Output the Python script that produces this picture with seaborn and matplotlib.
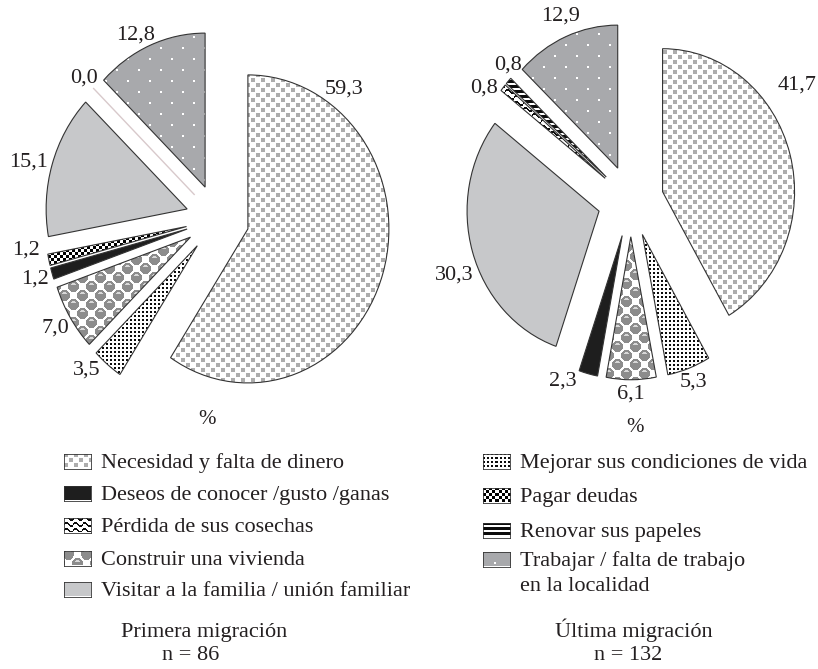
import numpy as np
import matplotlib
matplotlib.use("Agg")
import matplotlib.pyplot as plt
import seaborn as sns

# Categorías (orden de la leyenda)
claves = ["necesidad", "deseos", "perdida", "construir", "visitar",
          "mejorar", "pagar", "renovar", "trabajar"]
nombres = ["Necesidad y falta de dinero",
           "Deseos de conocer /gusto /ganas",
           "Pérdida de sus cosechas",
           "Construir una vivienda",
           "Visitar a la familia / unión familiar",
           "Mejorar sus condiciones de vida",
           "Pagar deudas",
           "Renovar sus papeles",
           "Trabajar / falta de trabajo\nen la localidad"]

# Primera migración (n = 86), en sentido horario desde arriba
orden_1 = ["necesidad", "mejorar", "construir", "deseos", "pagar",
           "visitar", "renovar", "trabajar"]
valores_1 = [59.3, 3.5, 7.0, 1.2, 1.2, 15.1, 0.0, 12.8]

# Última migración (n = 132)
orden_2 = ["necesidad", "mejorar", "construir", "deseos", "visitar",
           "perdida", "renovar", "trabajar"]
valores_2 = [41.7, 5.3, 6.1, 2.3, 30.3, 0.8, 0.8, 12.9]

titulos = ["Primera migración\nn = 86", "Última migración\nn = 132"]

sns.set_theme(style="white")
plt.rcParams["font.family"] = ["Liberation Serif", "DejaVu Serif"]
TXT = "#231f20"
W, H = 818, 669


def textura(clave, alto, ancho):
    yy, xx = np.mgrid[0:alto, 0:ancho]
    img = np.ones((alto, ancho, 3))
    if clave == "necesidad":
        m = ((xx % 10 < 4) & (yy % 10 < 4)) | (((xx + 5) % 10 < 4) & ((yy + 5) % 10 < 4))
        img[m] = 0.68
    elif clave == "mejorar":
        img[(xx % 4 < 2) & (yy % 4 < 2)] = 0.05
    elif clave == "construir":
        disco = np.zeros((alto, ancho), bool)
        brillo = np.zeros((alto, ancho), bool)
        for di in (-1, 0, 1):
            for dj in (-1, 0, 1):
                ci = xx // 9 + di
                cj = yy // 9 + dj
                ok = (ci + cj) % 2 == 0
                dx = xx - (9 * ci + 4)
                dy = yy - (9 * cj + 4)
                disco |= ok & (dx ** 2 + dy ** 2 < 5.4 ** 2)
                brillo |= ok & ((dx / 2.6) ** 2 + ((dy + 2.2) / 1.0) ** 2 < 1)
        img[disco] = 0.55
        img[brillo] = 0.85
    elif clave == "deseos":
        img[:] = 0.12
    elif clave == "pagar":
        img[(xx // 3 + yy // 3) % 2 == 0] = 0.0
    elif clave == "renovar":
        img[yy % 5 < 3] = 0.05
    elif clave == "perdida":
        onda = (yy + 1.8 * np.sin(2 * np.pi * xx / 9)) % 6
        img[onda < 2] = 0.05
    elif clave == "visitar":
        img[:] = (0.784, 0.788, 0.796)
    elif clave == "trabajar":
        img[:] = (0.66, 0.665, 0.675)
        m = ((xx % 22 < 2) & (yy % 22 < 2)) | (((xx + 11) % 22 < 2) & ((yy + 11) % 22 < 2))
        img[m] = 1.0
    return img


def fmt(v):
    return f"{v:.1f}".replace(".", ",")


def dibuja_pie(rect, orden, valores, explode, ajustes):
    ax = fig.add_axes(rect)
    wedges, _ = ax.pie(valores, explode=[explode] * len(valores), startangle=90,
                       counterclock=False,
                       wedgeprops=dict(facecolor="none", edgecolor="#333333",
                                       linewidth=0.8, zorder=3))
    xlim, ylim = (-1.5, 1.5), (-1.5, 1.4)
    ancho = int(round(rect[2] * W))
    alto = int(round(rect[3] * H))
    for w, clave, v in zip(wedges, orden, valores):
        if v == 0:
            w.set_edgecolor("#d8c9cb")
            w.set_linewidth(1.0)
        else:
            im = ax.imshow(textura(clave, alto, ancho),
                           extent=(xlim[0], xlim[1], ylim[0], ylim[1]),
                           aspect="auto", interpolation="nearest", zorder=1)
            im.set_clip_path(w)
        mid = 0.5 * (w.theta1 + w.theta2)
        dang, r = ajustes.get(clave, (0.0, 1.35))
        ang = np.deg2rad(mid + dang)
        ax.text(r * np.cos(ang), r * np.sin(ang), fmt(v), fontsize=16,
                color=TXT, ha="center", va="center")
    ax.set_aspect("auto")
    ax.set_xlim(*xlim)
    ax.set_ylim(*ylim)
    ax.axis("off")
    return ax


fig = plt.figure(figsize=(W / 100, H / 100), dpi=100)

# pie 1: centro (217.5, 219) px, escala 141 x 154 px por radio
rect1 = [6 / W, 219 / H, 423 / W, 446.6 / H]
ajustes_1 = {"necesidad": (60.0, 1.23), "mejorar": (-4.0, 1.35),
             "pagar": (-4.0, 1.37), "visitar": (1.5, 1.39),
             "trabajar": (3.0, 1.33), "renovar": (0.0, 1.32)}
dibuja_pie(rect1, orden_1, valores_1, 0.225, ajustes_1)

# pie 2: centro (630.7, 201) px, escala 132 x 143 px por radio
rect2 = [432.7 / W, 253.5 / H, 396 / W, 414.7 / H]
ajustes_2 = {"necesidad": (17.6, 1.5), "renovar": (-3.4, 1.33),
             "perdida": (3.9, 1.36), "visitar": (4.6, 1.43),
             "deseos": (-7.3, 1.36), "trabajar": (-1.0, 1.40)}
dibuja_pie(rect2, orden_2, valores_2, 0.25, ajustes_2)

fig.text(207 / W, 1 - 420 / H, "%", fontsize=15, color=TXT, ha="center", va="center")
fig.text(635 / W, 1 - 428 / H, "%", fontsize=15, color=TXT, ha="center", va="center")

# leyenda en dos columnas
col_x = [(64, 101), (483, 520)]
bases = [[468, 500, 532, 565, 596], [468, 502, 537, 566]]
idx = 0
for c, filas in enumerate(bases):
    ix, tx = col_x[c]
    for b in filas:
        clave, nombre = claves[idx], nombres[idx]
        iax = fig.add_axes([ix / W, (H - (b + 0.5)) / H, 27 / W, 15 / H])
        iax.imshow(textura(clave, 15, 27), aspect="auto", interpolation="nearest")
        iax.set_xticks([])
        iax.set_yticks([])
        for s in iax.spines.values():
            s.set_linewidth(0.6)
            s.set_color("#333333")
        lineas = nombre.split("\n")
        for k, linea in enumerate(lineas):
            fig.text(tx / W, 1 - (b + 25 * k) / H, linea, fontsize=16, color=TXT,
                     ha="left", va="baseline")
        idx += 1

# títulos bajo cada gráfico
for t, (x1, x2) in zip(titulos, [(204, 191), (634, 628)]):
    l1, l2 = t.split("\n")
    fig.text(x1 / W, 1 - 637 / H, l1, fontsize=16, color=TXT, ha="center", va="baseline")
    fig.text(x2 / W, 1 - 660 / H, l2, fontsize=16, color=TXT, ha="center", va="baseline")

fig.savefig("out.png", dpi=100)
